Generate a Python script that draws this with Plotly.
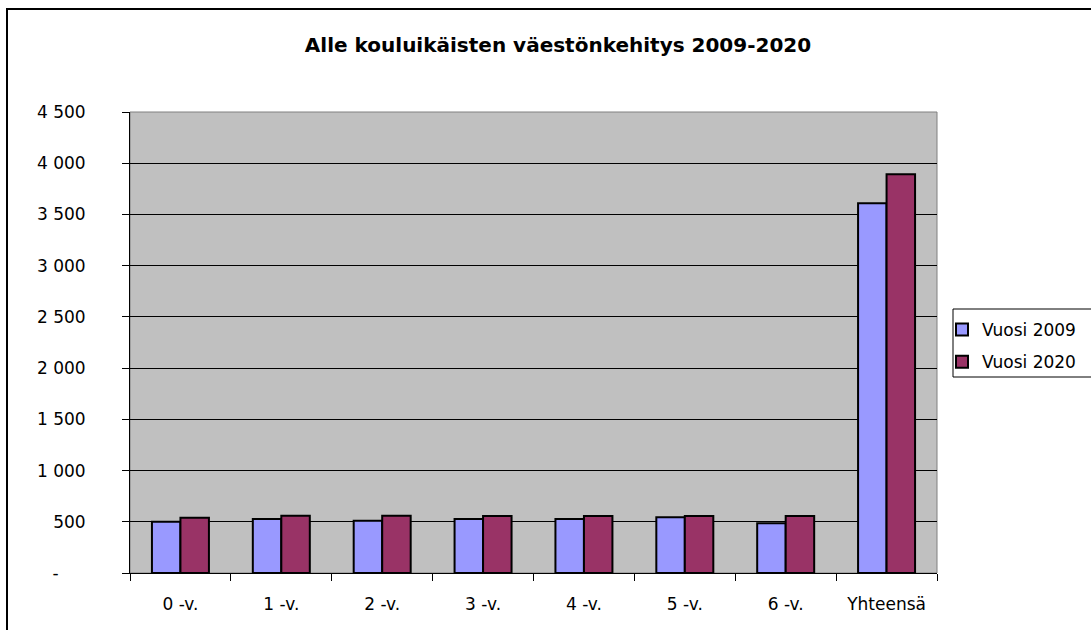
import plotly.graph_objects as go

categories = ["0 -v.", "1 -v.", "2 -v.", "3 -v.", "4 -v.", "5 -v.", "6 -v.", "Yhteensä"]
vuosi_2009 = [500, 527, 511, 527, 527, 543, 485, 3609]
vuosi_2020 = [540, 560, 560, 556, 556, 556, 556, 3892]
y_tickvals = [0, 500, 1000, 1500, 2000, 2500, 3000, 3500, 4000, 4500]
y_ticktext = ["-" + "\u00a0" * 5, "500", "1 000", "1 500", "2 000", "2 500",
              "3 000", "3 500", "4 000", "4 500"]

FONT = "DejaVu Sans, Liberation Sans, Arial, sans-serif"

fig = go.Figure()
fig.add_trace(go.Bar(x=categories, y=vuosi_2009, name="Vuosi 2009", legendgroup="a",
                     marker=dict(color="#9999FF", line=dict(color="black", width=2))))
fig.add_trace(go.Bar(x=categories, y=vuosi_2020, name="Vuosi 2020", legendgroup="b",
                     marker=dict(color="#993366", line=dict(color="black", width=2))))

W, H = 1091, 630
L, R, T, B = 130, 154, 112, 57
pw, ph = W - L - R, H - T - B

def px(xp):
    return (xp - L) / pw

def py(yp):
    return (H - B - yp) / ph

fig.update_layout(
    width=W, height=H,
    margin=dict(l=L, r=R, t=T, b=B, autoexpand=False),
    paper_bgcolor="white",
    plot_bgcolor="#C0C0C0",
    barmode="group",
    bargap=0.435,
    bargroupgap=0,
    font=dict(family=FONT, size=17, color="black"),
    title=dict(text="<b>Alle kouluikäisten väestönkehitys 2009-2020</b>",
               x=558 / W, xanchor="center", y=1 - 45 / H, yanchor="middle",
               font=dict(family=FONT, size=20, color="black")),
    legend=dict(x=px(942), xanchor="left", y=py(312), yanchor="top",
                bgcolor="rgba(0,0,0,0)", borderwidth=0,
                font=dict(family=FONT, size=17, color="black"),
                traceorder="grouped", tracegroupgap=7),
    xaxis=dict(showline=True, linecolor="black", linewidth=1,
               ticks="outside", tickson="boundaries", ticklen=7, tickcolor="black",
               showgrid=False, tickfont=dict(size=17), ticklabelstandoff=16),
    yaxis=dict(range=[0, 4500], tickvals=y_tickvals, ticktext=y_ticktext,
               showline=True, linecolor="black", linewidth=1,
               ticks="outside", ticklen=7, tickcolor="black",
               showgrid=True, gridcolor="black", gridwidth=1,
               zeroline=False, tickfont=dict(size=17), ticklabelstandoff=33),
    shapes=[
        dict(type="rect", xref="paper", yref="paper", x0=0, x1=1, y0=0, y1=1,
             line=dict(color="#808080", width=1), layer="below"),
        dict(type="rect", xref="paper", yref="paper",
             x0=px(953), x1=px(1120), y0=py(377), y1=py(309),
             line=dict(color="black", width=1)),
        dict(type="rect", xref="paper", yref="paper",
             x0=px(7), x1=px(1100), y0=py(640), y1=py(9),
             line=dict(color="black", width=2)),
    ],
)

fig.write_html("out.html", config={"displayModeBar": False},
               post_script="document.body.style.margin='0';")
